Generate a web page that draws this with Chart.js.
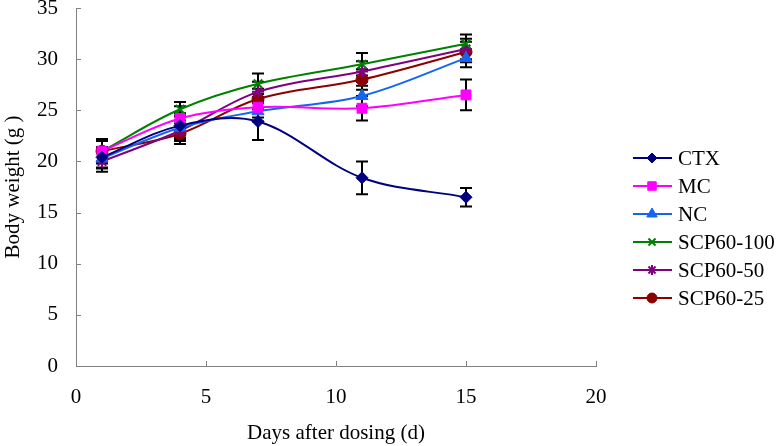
<!DOCTYPE html>
<html>
<head>
<meta charset="utf-8">
<script src="https://cdn.jsdelivr.net/npm/chart.js@4/dist/chart.umd.min.js"></script>
<style>
html,body{margin:0;padding:0;background:#fff;}
canvas{display:block;}
</style>
</head>
<body>
<canvas id="c" width="783" height="446"></canvas>
<script>
const days = [1, 4, 7, 11, 15];
const seriesNames = ["CTX", "MC", "NC", "SCP60-100", "SCP60-50", "SCP60-25"];
const ctxValues = [20.4, 23.5, 23.9, 18.4, 16.5];
const mcValues = [21.0, 24.2, 25.3, 25.2, 26.5];
const ncValues = [20.3, 23.3, 24.9, 26.4, 30.1];
const scp100Values = [21.0, 25.1, 27.6, 29.5, 31.5];
const scp50Values = [20.0, 23.0, 26.8, 28.8, 31.0];
const scp25Values = [21.0, 22.7, 26.1, 28.0, 30.7];
const ctxErr = [1.0, 1.2, 1.8, 1.6, 0.9];
const mcErr = [1.0, 1.2, 1.0, 1.2, 1.5];
const ncErr = [1.0, 1.2, 1.0, 1.0, 0.9];
const scp100Err = [1.2, 0.7, 1.0, 1.1, 0.9];
const scp50Err = [1.0, 1.0, 1.0, 1.0, 1.0];
const scp25Err = [1.0, 1.0, 1.0, 1.0, 1.0];
const xTicks = [0, 5, 10, 15, 20];
const yTicks = [0, 5, 10, 15, 20, 25, 30, 35];

const colors = ["#000080", "#FF00FF", "#1466F0", "#008000", "#800080", "#8B0000"];
const styles = ["rectRot", "rect", "triangle", "crossRot", "star", "circle"];
const radii = [6, 7, 7, 6, 6, 6];
const legendRadii = [5, 6, 6, 5, 5, 5];
const allValues = [ctxValues, mcValues, ncValues, scp100Values, scp50Values, scp25Values];
const allErr = [ctxErr, mcErr, ncErr, scp100Err, scp50Err, scp25Err];

const datasets = seriesNames.map((name, i) => ({
  label: name,
  data: days.map((d, j) => ({x: d, y: allValues[i][j]})),
  errors: allErr[i],
  legendRadius: legendRadii[i],
  borderColor: colors[i],
  backgroundColor: colors[i],
  pointBackgroundColor: colors[i],
  pointBorderColor: colors[i],
  pointStyle: styles[i],
  pointRadius: radii[i],
  pointBorderWidth: (styles[i] === "crossRot" || styles[i] === "star") ? 2 : 1,
  borderWidth: 2,
  tension: 0.35,
  fill: false
}));

const FONT = "'Liberation Serif', 'Times New Roman', serif";

const errorBars = {
  id: "errorBars",
  beforeDatasetsDraw(chart) {
    const c = chart.ctx;
    const xs = chart.scales.x, ys = chart.scales.y;
    c.save();
    c.strokeStyle = "#000";
    c.lineWidth = 2;
    chart.data.datasets.forEach(ds => {
      ds.data.forEach((p, j) => {
        const e = ds.errors[j];
        const px = xs.getPixelForValue(p.x);
        const top = ys.getPixelForValue(p.y + e);
        const bot = ys.getPixelForValue(p.y - e);
        c.beginPath();
        c.moveTo(px, top); c.lineTo(px, bot);
        c.moveTo(px - 6, top); c.lineTo(px + 6, top);
        c.moveTo(px - 6, bot); c.lineTo(px + 6, bot);
        c.stroke();
      });
    });
    c.restore();
  }
};

const inwardTicks = {
  id: "inwardTicks",
  afterDraw(chart) {
    const c = chart.ctx;
    const xs = chart.scales.x, ys = chart.scales.y;
    const a = chart.chartArea;
    c.save();
    c.strokeStyle = "#808080";
    c.lineWidth = 1;
    c.beginPath();
    xTicks.forEach(v => {
      const px = Math.round(xs.getPixelForValue(v)) + 0.5;
      c.moveTo(px, a.bottom); c.lineTo(px, a.bottom - 5);
    });
    yTicks.forEach(v => {
      const py = Math.round(ys.getPixelForValue(v)) + 0.5;
      c.moveTo(a.left, py); c.lineTo(a.left + 5, py);
    });
    c.stroke();
    c.restore();
  }
};

const customLegend = {
  id: "customLegend",
  afterDraw(chart) {
    const c = chart.ctx;
    c.save();
    c.font = "21px " + FONT;
    c.textBaseline = "middle";
    chart.data.datasets.forEach((ds, i) => {
      const y = 158 + i * 28;
      c.strokeStyle = ds.borderColor;
      c.lineWidth = 2;
      c.beginPath();
      c.moveTo(633, y); c.lineTo(672, y);
      c.stroke();
      c.fillStyle = ds.backgroundColor;
      c.strokeStyle = ds.borderColor;
      c.lineWidth = ds.pointBorderWidth;
      Chart.helpers.drawPoint(c, {pointStyle: ds.pointStyle, radius: ds.legendRadius, rotation: 0, borderWidth: ds.pointBorderWidth}, 652, y);
      c.fillStyle = "#000";
      c.fillText(ds.label, 678, y + 1);
    });
    c.restore();
  }
};

new Chart(document.getElementById("c"), {
  type: "line",
  data: { datasets },
  plugins: [errorBars, inwardTicks, customLegend],
  options: {
    responsive: false,
    animation: false,
    layout: { padding: { top: 7, right: 187, left: 0, bottom: 0 } },
    plugins: { legend: { display: false }, tooltip: { enabled: false } },
    scales: {
      x: {
        type: "linear",
        min: 0, max: 20,
        afterBuildTicks(s) { s.ticks = xTicks.map(v => ({value: v})); },
        afterFit(s) { s.height = 80; s.paddingLeft = 0; s.paddingRight = 0; },
        grid: { display: false, drawTicks: false },
        border: { display: true, color: "#808080", width: 1 },
        ticks: { color: "#000", font: { family: FONT, size: 21 }, padding: 19, maxRotation: 0 },
        title: { display: true, text: "Days after dosing (d)", color: "#000", font: { family: FONT, size: 21 }, padding: { top: 4, bottom: 0 } }
      },
      y: {
        type: "linear",
        min: 0, max: 35,
        afterBuildTicks(s) { s.ticks = yTicks.map(v => ({value: v})); },
        afterFit(s) { s.width = 76; s.paddingTop = 0; s.paddingBottom = 0; },
        grid: { display: false, drawTicks: false },
        border: { display: true, color: "#808080", width: 1 },
        ticks: { color: "#000", font: { family: FONT, size: 21 }, padding: 18 },
        title: { display: true, text: "Body weight (g )", color: "#000", font: { family: FONT, size: 21 }, padding: { top: 1, bottom: 4 } }
      }
    }
  }
});
</script>
</body>
</html>
